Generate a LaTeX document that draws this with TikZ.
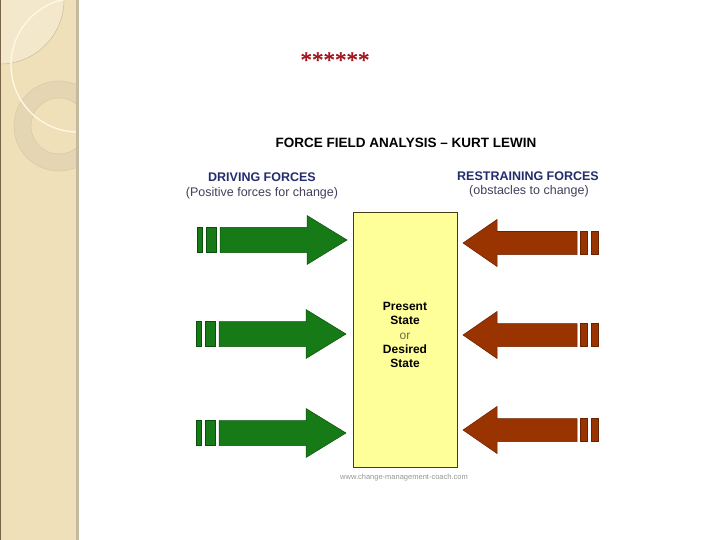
\documentclass[tikz,border=0pt]{standalone}
\usepackage{fontspec}
\setmainfont{Liberation Sans}
\newfontfamily\starfont[FakeBold=1.2]{Liberation Serif}
\definecolor{stripbg}{RGB}{239,224,186}
\definecolor{striplight}{RGB}{243,232,204}
\definecolor{stripline}{RGB}{200,180,140}
\definecolor{stripwhite}{RGB}{255,249,228}
\definecolor{ringcol}{RGB}{228,214,178}
\definecolor{ringline}{RGB}{214,198,160}
\definecolor{stripedge}{RGB}{196,186,160}
\definecolor{stripdark}{RGB}{120,100,70}
\definecolor{gfill}{RGB}{22,122,22}
\definecolor{gline}{RGB}{10,80,10}
\definecolor{rfill}{RGB}{153,51,0}
\definecolor{rline}{RGB}{105,35,0}
\definecolor{boxfill}{RGB}{255,255,153}
\definecolor{boxline}{RGB}{70,60,20}
\definecolor{headblue}{RGB}{35,45,110}
\definecolor{subgray}{RGB}{65,65,90}
\definecolor{orcol}{RGB}{110,110,60}
\definecolor{webgray}{RGB}{150,150,150}
\definecolor{starred}{RGB}{165,20,30}
\begin{document}
\begin{tikzpicture}[x=1pt,y=-1pt,
  garrowpart/.style={fill=gfill,draw=gline,line width=0.5pt},
  rarrowpart/.style={fill=rfill,draw=rline,line width=0.5pt},
  headtext/.style={font=\bfseries\fontsize{12.5}{14}\selectfont,text=headblue,inner sep=0pt},
  subtext/.style={font=\fontsize{12.5}{14}\selectfont,text=subgray,inner sep=0pt},
  statebox/.style={draw=boxline,fill=boxfill,line width=0.8pt,minimum width=104pt,minimum height=255pt,inner sep=0pt},
  pics/greenforce/.style={code={
    \path[garrowpart] (0,0) -- (-40,-24.5) -- (-40,-12.5) -- (-127,-12.5) -- (-127,12.5) -- (-40,12.5) -- (-40,24.5) -- cycle;
    \path[garrowpart] (-141,-12.5) rectangle (-131,12.5);
    \path[garrowpart] (-150,-12.5) rectangle (-145,12.5);
  }},
  pics/redforce/.style={code={
    \path[rarrowpart] (0,0) -- (34,-23.5) -- (34,-11.5) -- (114,-11.5) -- (114,11.5) -- (34,11.5) -- (34,23.5) -- cycle;
    \path[rarrowpart] (117,-11.5) rectangle (124,11.5);
    \path[rarrowpart] (128,-11.5) rectangle (135,11.5);
  }}
]
\useasboundingbox (0,0) rectangle (720,540);
\fill[white] (0,0) rectangle (720,540);
% decorative strip
\begin{scope}
  \clip (0,0) rectangle (78,540);
  \fill[stripbg] (0,0) rectangle (78,540);
  \fill[striplight] (0,0) circle (64);
  \draw[stripline,line width=0.4pt] (0,0) circle (64);
  \draw[ringcol,line width=17pt] (59,126) circle (36.5);
  \draw[ringline,line width=0.4pt] (59,126) circle (45);
  \draw[ringline,line width=0.4pt] (59,126) circle (28);
  \draw[stripwhite,line width=1.3pt] (78,65) circle (67);
\end{scope}
\fill[stripedge] (76,0) rectangle (79,540);
\fill[stripdark] (0,0) rectangle (0.8,540);
% heading stars
\node[font=\starfont\fontsize{23}{23}\selectfont,text=starred,inner sep=0pt] (stars) at (335,60) {******};
% title
\node[font=\bfseries\fontsize{13.5}{15}\selectfont,inner sep=0pt] (title) at (406,143) {FORCE FIELD ANALYSIS – KURT LEWIN};
\node[headtext] (drive) at (262,177) {DRIVING FORCES};
\node[subtext] (drivesub) at (262,193) {(Positive forces for change)};
\node[headtext] (restrain) at (528,176) {RESTRAINING FORCES};
\node[subtext] (restrainsub) at (529,191) {(obstacles to change)};
% central box
\node[statebox] (state) at (405,339.5) {};
\node[font=\bfseries\fontsize{12}{14.3}\selectfont,align=center,inner sep=0pt] (statetext) at (405,335) {Present\\State\\{\mdseries\color{orcol}or}\\Desired\\State};
\node[font=\fontsize{7.5}{9}\selectfont,text=webgray,inner sep=0pt] (web) at (404,478) {www.change-management-coach.com};
% forces
\pic at (347,240) {greenforce};
\pic at (346,334) {greenforce};
\pic at (346,433) {greenforce};
\pic at (463,243) {redforce};
\pic at (463,335) {redforce};
\pic at (463,430) {redforce};
\end{tikzpicture}
\end{document}
